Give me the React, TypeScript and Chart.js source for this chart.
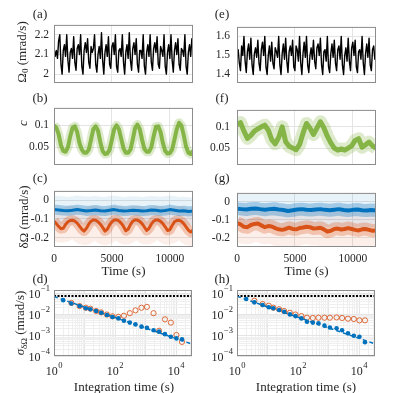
import React, { useEffect, useRef } from "react";
import { Chart, registerables } from "chart.js";
Chart.register(...registerables);

// ---------------- data ----------------
// (a) Omega_0, sampled every 100 s
const OMEGA_A_DT = 100;
const omegaA = [
  2.13, 2.09, 2.12, 2.08, 2.17, 2.2,
  2.05, 2.0, 2.12, 2.15, 2.09, 2.2,
  2.07, 2.01, 2.11, 2.13, 2.08, 2.19,
  2.06, 2.02, 2.13, 2.15, 2.1, 2.2,
  2.04, 2.0, 2.12, 2.16, 2.11, 2.18,
  2.06, 2.03, 2.14, 2.11, 2.13, 2.2,
  2.05, 2.01, 2.1, 2.14, 2.08, 2.21,
  2.07, 2.0, 2.11, 2.15, 2.09, 2.19,
  2.05, 2.03, 2.14, 2.16, 2.1, 2.2,
  2.04, 2.01, 2.12, 2.13, 2.09, 2.2,
  2.06, 2.0, 2.11, 2.15, 2.08, 2.21,
  2.07, 2.02, 2.13, 2.16, 2.1, 2.18,
  2.05, 2.01, 2.12, 2.12, 2.08, 2.2,
  2.04, 2.0, 2.11, 2.15, 2.09, 2.2,
  2.06, 2.02, 2.13, 2.16, 2.11, 2.19,
  2.05, 2.03, 2.14, 2.12, 2.09, 2.2,
  2.04, 2.0, 2.11, 2.15, 2.08, 2.2,
  2.07, 2.01, 2.12, 2.16, 2.1, 2.18,
  2.05, 2.02, 2.13, 2.12, 2.09, 2.2,
  2.04, 2.0, 2.11, 2.15, 2.09, 2.18,
  2.12,
];
// (e) Omega_0, sampled every 100 s
const OMEGA_E_DT = 100;
const omegaE = [
  1.5, 1.53, 1.46, 1.42, 1.55, 1.5,
  1.6, 1.47, 1.41, 1.52, 1.56, 1.48,
  1.59, 1.45, 1.4, 1.51, 1.54, 1.49,
  1.58, 1.46, 1.42, 1.53, 1.57, 1.5,
  1.6, 1.44, 1.4, 1.5, 1.55, 1.47,
  1.57, 1.46, 1.43, 1.54, 1.52, 1.49,
  1.6, 1.45, 1.4, 1.51, 1.56, 1.48,
  1.59, 1.47, 1.41, 1.52, 1.55, 1.5,
  1.58, 1.44, 1.42, 1.55, 1.53, 1.47,
  1.6, 1.46, 1.4, 1.51, 1.57, 1.49,
  1.6, 1.45, 1.41, 1.5, 1.54, 1.48,
  1.58, 1.47, 1.43, 1.54, 1.56, 1.5,
  1.59, 1.45, 1.4, 1.52, 1.53, 1.47,
  1.6, 1.44, 1.41, 1.51, 1.56, 1.49,
  1.58, 1.46, 1.42, 1.53, 1.55, 1.48,
  1.6, 1.45, 1.4, 1.5, 1.54, 1.47,
  1.59, 1.47, 1.42, 1.54, 1.57, 1.5,
  1.58, 1.44, 1.41, 1.52, 1.53, 1.48,
  1.6, 1.46, 1.4, 1.51, 1.56, 1.49,
  1.59, 1.45, 1.42, 1.53, 1.55, 1.48,
  1.51,
];
// (b) contrast c, every 200 s
const C_B_DT = 200;
const cB = [
  0.1, 0.095, 0.08, 0.055, 0.042, 0.04, 0.05, 0.075, 0.095, 0.098,
  0.085, 0.06, 0.045, 0.038, 0.038, 0.045, 0.068, 0.092, 0.098, 0.088,
  0.062, 0.042, 0.035, 0.036, 0.045, 0.068, 0.092, 0.1, 0.092, 0.07,
  0.048, 0.038, 0.038, 0.045, 0.068, 0.094, 0.102, 0.092, 0.068, 0.047,
  0.04, 0.04, 0.05, 0.075, 0.097, 0.098, 0.085, 0.06, 0.042, 0.036,
  0.037, 0.045, 0.068, 0.092, 0.106, 0.1, 0.078, 0.052, 0.038, 0.035,
  0.042,
];
// (f) contrast c, every 300 s
const C_F_DT = 300;
const cF = [
  0.105, 0.11, 0.09, 0.073, 0.08, 0.09, 0.095, 0.1, 0.104, 0.092,
  0.07, 0.06, 0.075, 0.1, 0.065, 0.054, 0.05, 0.046, 0.058, 0.085,
  0.108, 0.097, 0.082, 0.097, 0.112, 0.098, 0.078, 0.062, 0.05, 0.045,
  0.048, 0.045, 0.05, 0.055, 0.068, 0.072, 0.052, 0.058, 0.064, 0.055,
  0.05,
];
// (c) delta Omega
const DW_C_BLUE_DT = 400;
const dwCBlue = [
  -0.05, -0.052, -0.055, -0.056, -0.054, -0.05, -0.053, -0.057, -0.055, -0.052,
  -0.056, -0.058, -0.054, -0.05, -0.055, -0.057, -0.056, -0.053, -0.055, -0.058,
  -0.056, -0.052, -0.054, -0.057, -0.055, -0.05, -0.054, -0.058, -0.056, -0.06,
  -0.058,
];
const DW_C_ORANGE_DT = 200;
const dwCOrange = [
  -0.112, -0.125, -0.14, -0.152, -0.15, -0.13, -0.115, -0.108, -0.107, -0.112,
  -0.122, -0.138, -0.155, -0.165, -0.15, -0.128, -0.112, -0.105, -0.107, -0.115,
  -0.128, -0.145, -0.165, -0.155, -0.132, -0.115, -0.106, -0.105, -0.11, -0.122,
  -0.14, -0.163, -0.155, -0.13, -0.112, -0.105, -0.106, -0.113, -0.125, -0.143,
  -0.162, -0.15, -0.128, -0.112, -0.105, -0.106, -0.113, -0.125, -0.142, -0.162,
  -0.158, -0.135, -0.115, -0.108, -0.107, -0.113, -0.125, -0.142, -0.16, -0.17,
  -0.16,
];
// (g) delta Omega
const DW_G_BLUE_DT = 400;
const dwGBlue = [
  -0.038, -0.04, -0.042, -0.038, -0.036, -0.04, -0.043, -0.04, -0.038, -0.042,
  -0.045, -0.05, -0.046, -0.042, -0.04, -0.043, -0.045, -0.042, -0.04, -0.044,
  -0.046, -0.043, -0.04, -0.045, -0.048, -0.044, -0.042, -0.046, -0.048, -0.045,
  -0.047,
];
const DW_G_ORANGE_DT = 300;
const dwGOrange = [
  -0.118, -0.125, -0.138, -0.14, -0.128, -0.122, -0.12, -0.13, -0.14, -0.134,
  -0.136, -0.145, -0.152, -0.155, -0.15, -0.143, -0.15, -0.152, -0.145, -0.142,
  -0.138, -0.14, -0.148, -0.146, -0.143, -0.152, -0.165, -0.16, -0.15, -0.148,
  -0.153, -0.15, -0.145, -0.15, -0.155, -0.158, -0.152, -0.15, -0.155, -0.16,
  -0.158,
];
// (d), (h) Allan deviation
const tau = [2, 3.7, 6.9, 11, 15.5, 24, 35, 54, 82, 128, 195, 304, 465, 730, 1100, 1820, 2760, 4300, 6700, 10200, 15500];
const adevDBlue = [0.046, 0.032, 0.024, 0.019, 0.017, 0.0139, 0.0115, 0.009, 0.0072, 0.0062, 0.0048, 0.0039, 0.0032, 0.0025, 0.0022, 0.0017, 0.00145, 0.0011, 0.00083, 0.00069, 0.00063];
const adevDOrange = [null, 0.034, 0.024, 0.02, 0.018, 0.014, 0.012, 0.0095, 0.0078, 0.0074, 0.0083, 0.011, 0.015, 0.02, 0.022, 0.011, 0.0016, 0.0056, 0.0039, 0.001, 0.00047];
const adevHBlue = [0.052, 0.036, 0.027, 0.021, 0.019, 0.0155, 0.0129, 0.0096, 0.008, 0.0062, 0.0043, 0.0039, 0.0036, 0.0028, 0.0023, 0.0021, 0.0017, 0.0012, 0.00093, 0.00083, 0.00045];
const adevHOrange = [null, 0.043, 0.03, 0.025, 0.02, 0.017, 0.014, 0.0115, 0.0095, 0.008, 0.0067, 0.0065, 0.0067, 0.0067, 0.0067, 0.0069, 0.0065, 0.006, 0.0058, 0.005, 0.005];
const fitTau = [1, 33000];
const fitD = [0.068, 0.00037];
const fitH = [0.07, 0.00038];
const refLevel = [0.072, 0.072];

// tick values
const timeTicks = [0, 5000, 10000];
const ticksA = [2, 2.1, 2.2];
const ticksE = [1.4, 1.5, 1.6];
const ticksC = [0.05, 0.1];
const ticksDW = [-0.2, -0.1, 0];
const logXLabels = [1, 100, 10000];
const logYLabels = [0.1, 0.01, 0.001, 0.0001];

// ---------------- styles ----------------
const SERIF = "'Liberation Serif', 'Times New Roman', Times, serif";
const TXT = "#262626";
const BLUE = "#0072BD";
const ORANGE = "#D95319";
const GREEN = "#77AC30";
const GRID = "#e4e4e4";
const GRID_MINOR = "#efefef";
const BOX = "#8c8c8c";
const TICK_SIZE = 11.5;

const ML = 50, MT = 8, MR = 4, MB = 26;
const LEFT_X = 54, RIGHT_X = 237, BOX_W = 139;

const withTime = (vals: (number | null)[], dt: number) => vals.map((y, i) => ({ x: i * dt, y }));
const pairs = (xs: number[], ys: (number | null)[]) => xs.map((x, i) => ({ x, y: ys[i] }));
const fmt = (v: number) => `${+Number(v).toFixed(3)}`;
const isDecade = (v: number) => Math.abs(Math.log10(v) - Math.round(Math.log10(v))) < 1e-6;
const logTickValues = (min: number, max: number) => {
  const out: number[] = [];
  for (let k = -5; k <= 5; k++) for (let m = 1; m <= 9; m++) {
    const v = m * Math.pow(10, k);
    if (v >= min * 0.999 && v <= max * 1.001) out.push(v);
  }
  return out;
};

const rgba = (hex: string, a: number) => {
  const n = parseInt(hex.slice(1), 16);
  return `rgba(${(n >> 16) & 255},${(n >> 8) & 255},${n & 255},${a})`;
};
const line = (data: any[], color: string, width: number, extra: any = {}) => ({
  data, borderColor: color, borderWidth: width, pointRadius: 0, tension: 0, fill: false,
  clip: 0, borderJoinStyle: "round", borderCapStyle: "butt", ...extra,
});

const boxPlugin = {
  id: "boxFrame",
  afterDraw(chart: any) {
    const { ctx, chartArea: a } = chart;
    ctx.save();
    ctx.strokeStyle = BOX;
    ctx.lineWidth = 1;
    ctx.strokeRect(a.left + 0.5, a.top + 0.5, a.right - a.left - 1, a.bottom - a.top - 1);
    ctx.restore();
  },
};

const drawPow = (ctx: any, exp: string, x: number, y: number, align: "center" | "right") => {
  const baseFont = `${TICK_SIZE + 0.5}px ${SERIF}`;
  const supFont = `${TICK_SIZE - 3}px ${SERIF}`;
  ctx.font = baseFont;
  const w1 = ctx.measureText("10").width;
  ctx.font = supFont;
  const w2 = ctx.measureText(exp).width;
  const total = w1 + w2 + 0.5;
  const x0 = align === "center" ? x - total / 2 : x - total;
  ctx.textAlign = "left";
  ctx.textBaseline = "middle";
  ctx.font = baseFont;
  ctx.fillText("10", x0, y + 1.5);
  ctx.font = supFont;
  ctx.fillText(exp, x0 + w1 + 0.5, y - 4);
};

const logLabelPlugin = {
  id: "logLabels",
  afterDraw(chart: any) {
    const { ctx, chartArea: a } = chart;
    const xs = chart.scales.x, ys = chart.scales.y;
    ctx.save();
    ctx.fillStyle = TXT;
    for (const v of logXLabels) {
      const px = xs.getPixelForValue(v);
      drawPow(ctx, `${Math.round(Math.log10(v))}`.replace("-", "\u2212"), px, a.bottom + 14, "center");
    }
    for (const v of logYLabels) {
      const py = ys.getPixelForValue(v);
      drawPow(ctx, `${Math.round(Math.log10(v))}`.replace("-", "\u2212"), a.left - 4, py, "right");
    }
    ctx.restore();
  },
};

type AxisOpt = {
  log?: boolean; min: number; max: number; ticks: number[]; show: boolean; pad?: number;
};

function makeConfig(xo: AxisOpt, yo: AxisOpt, datasets: any[]) {
  const axis = (o: AxisOpt, horizontal: boolean) => ({
    type: o.log ? "logarithmic" : "linear",
    min: o.min,
    max: o.max,
    afterBuildTicks: (s: any) => { s.ticks = o.ticks.map((v) => ({ value: v })); },
    afterFit: (s: any) => { if (horizontal) s.height = MB; else s.width = ML; },
    grid: {
      color: o.log ? (c: any) => (c.tick && isDecade(c.tick.value) ? GRID : GRID_MINOR) : GRID,
      drawTicks: false,
      lineWidth: 1,
    },
    border: { display: false },
    ticks: {
      display: o.show && !o.log,
      font: { family: SERIF, size: TICK_SIZE },
      color: TXT,
      padding: o.pad ?? 5,
      maxRotation: 0,
      minRotation: 0,
      autoSkip: false,
      callback: (v: any) => fmt(v),
    },
  });
  return {
    type: "line",
    data: { datasets },
    options: {
      animation: false,
      responsive: false,
      maintainAspectRatio: false,
      events: [],
      layout: { padding: { top: MT, right: MR, left: 0, bottom: 0 } },
      plugins: { legend: { display: false }, tooltip: { enabled: false } },
      scales: { x: axis(xo, true), y: axis(yo, false) },
    },
    plugins: xo.log ? [boxPlugin, logLabelPlugin] : [boxPlugin],
  };
}

type Geo = { left: number; top: number; h: number };

function Panel({ geo, build }: { geo: Geo; build: () => any }) {
  const ref = useRef<HTMLCanvasElement>(null);
  const W = ML + BOX_W + MR;
  const H = MT + geo.h + MB;
  useEffect(() => {
    const chart = new Chart(ref.current as HTMLCanvasElement, build());
    return () => chart.destroy();
  }, []);
  return (
    <canvas
      ref={ref}
      width={W}
      height={H}
      style={{ position: "absolute", left: geo.left - ML, top: geo.top - MT, width: W, height: H }}
    />
  );
}

const timeAxis = (show: boolean): AxisOpt => ({ min: 0, max: 12000, ticks: timeTicks, show, pad: 5 });
const logX: AxisOpt = { log: true, min: 1, max: 33000, ticks: logTickValues(1, 33000), show: true };
const logY: AxisOpt = { log: true, min: 0.0001, max: 0.14, ticks: logTickValues(0.0001, 0.14), show: true };

const omegaPanel = (vals: number[], dt: number, min: number, max: number, ticks: number[], pad: number) => () =>
  makeConfig(timeAxis(false), { min, max, ticks, show: true, pad }, [line(withTime(vals, dt), "#000", 1.4)]);

const cPanel = (vals: number[], dt: number, core: number, outer: number, pad: number) => () =>
  makeConfig(timeAxis(false), { min: 0.01, max: 0.14, ticks: ticksC, show: true, pad }, [
    line(withTime(vals, dt), rgba(GREEN, 0.85), core),
    line(withTime(vals, dt), rgba(GREEN, 0.25), outer),
  ]);

const dwPanel = (
  blue: number[], bdt: number, orange: number[], odt: number, w: number[], pad: number
) => () =>
  makeConfig(timeAxis(true), { min: -0.25, max: 0.05, ticks: ticksDW, show: true, pad }, [
    line(withTime(blue, bdt), BLUE, w[0]),
    line(withTime(orange, odt), ORANGE, w[0]),
    line(withTime(blue, bdt), rgba(BLUE, 0.3), w[1]),
    line(withTime(orange, odt), rgba(ORANGE, 0.28), w[1]),
    line(withTime(blue, bdt), rgba(BLUE, 0.09), w[2]),
    line(withTime(orange, odt), rgba(ORANGE, 0.09), w[2]),
  ]);

const adevPanel = (blue: (number | null)[], orange: (number | null)[], fit: number[]) => () =>
  makeConfig(logX, logY, [
    line(pairs(tau, blue), BLUE, 0, { showLine: false, pointRadius: 2.3, pointBackgroundColor: BLUE, pointBorderWidth: 0 }),
    line(pairs(fitTau, fit), BLUE, 1.5, { borderDash: [4, 3] }),
    line(pairs(tau, orange), ORANGE, 0, {
      showLine: false, pointRadius: 2.6, pointBackgroundColor: "rgba(0,0,0,0)",
      pointBorderColor: rgba(ORANGE, 0.85), pointBorderWidth: 1,
    }),
    line(pairs(fitTau, refLevel), "#000", 2, { borderDash: [2, 1.5] }),
  ]);

const ROWS = { a: { top: 21, h: 62 }, b: { top: 104, h: 61 }, c: { top: 187, h: 60 }, d: { top: 290, h: 66 } };

const textBase: React.CSSProperties = {
  position: "absolute", fontFamily: SERIF, color: TXT, whiteSpace: "nowrap", lineHeight: 1,
};
const Label = ({ x, y, children, size = 13, rotate = false }: any) => (
  <div
    style={{
      ...textBase, left: x, top: y, fontSize: size,
      transform: `translate(-50%, -50%)${rotate ? " rotate(-90deg)" : ""}`,
    }}
  >
    {children}
  </div>
);

export default function App() {
  return (
    <div style={{ position: "absolute", left: 0, top: 0, width: 415, height: 393, background: "#fff", overflow: "hidden" }}>
      <Panel geo={{ left: LEFT_X, ...ROWS.a }} build={omegaPanel(omegaA, OMEGA_A_DT, 1.955, 2.25, ticksA, 5)} />
      <Panel geo={{ left: RIGHT_X, ...ROWS.a }} build={omegaPanel(omegaE, OMEGA_E_DT, 1.355, 1.65, ticksE, 7)} />
      <Panel geo={{ left: LEFT_X, ...ROWS.b }} build={cPanel(cB, C_B_DT, 4, 9, 5)} />
      <Panel geo={{ left: RIGHT_X, ...ROWS.b }} build={cPanel(cF, C_F_DT, 5, 13, 7)} />
      <Panel geo={{ left: LEFT_X, ...ROWS.c }} build={dwPanel(dwCBlue, DW_C_BLUE_DT, dwCOrange, DW_C_ORANGE_DT, [3, 10, 28], 5)} />
      <Panel geo={{ left: RIGHT_X, ...ROWS.c }} build={dwPanel(dwGBlue, DW_G_BLUE_DT, dwGOrange, DW_G_ORANGE_DT, [4, 13, 34], 7)} />
      <Panel geo={{ left: LEFT_X, ...ROWS.d }} build={adevPanel(adevDBlue, adevDOrange, fitD)} />
      <Panel geo={{ left: RIGHT_X, ...ROWS.d }} build={adevPanel(adevHBlue, adevHOrange, fitH)} />

      <Label x={40} y={13}>(a)</Label>
      <Label x={40} y={97}>(b)</Label>
      <Label x={40} y={177}>(c)</Label>
      <Label x={40} y={278}>(d)</Label>
      <Label x={222} y={13}>(e)</Label>
      <Label x={222} y={97}>(f)</Label>
      <Label x={222} y={177}>(g)</Label>
      <Label x={222} y={278}>(h)</Label>

      <Label x={22} y={52} rotate>
        Ω<sub style={{ fontSize: 9, verticalAlign: "-2px" }}>0</sub> (mrad/s)
      </Label>
      <Label x={22} y={123} rotate>
        <i>c</i>
      </Label>
      <Label x={23} y={217} rotate>δΩ (mrad/s)</Label>
      <Label x={21} y={323} rotate>
        <i>σ</i>
        <sub style={{ fontSize: 9, verticalAlign: "-3px" }}>δΩ</sub> (mrad/s)
      </Label>

      <Label x={123.5} y={270}>Time (s)</Label>
      <Label x={306.5} y={270}>Time (s)</Label>
      <Label x={124} y={386}>Integration time (s)</Label>
      <Label x={306} y={386}>Integration time (s)</Label>
    </div>
  );
}
